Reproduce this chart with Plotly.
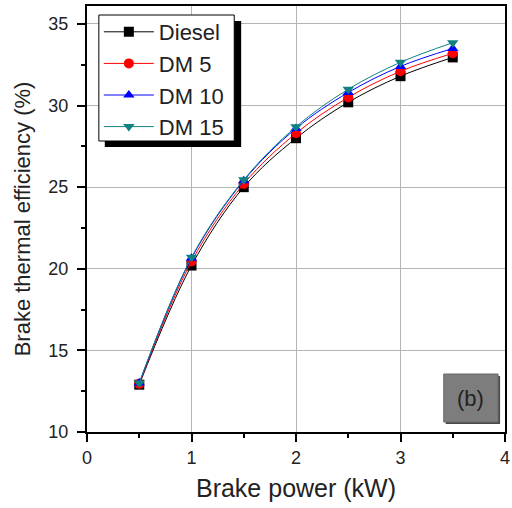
import plotly.graph_objects as go

power = [0.5, 1.0, 1.5, 2.0, 2.5, 3.0, 3.5]
diesel = [12.9, 20.2, 25.0, 28.0, 30.2, 31.8, 32.95]
dm5 = [12.95, 20.45, 25.2, 28.3, 30.5, 32.1, 33.2]
dm10 = [13.0, 20.65, 25.4, 28.6, 30.8, 32.4, 33.5]
dm15 = [13.0, 20.7, 25.45, 28.7, 31.0, 32.65, 33.85]

series = [
    ("Diesel", diesel, "black", "square"),
    ("DM 5", dm5, "red", "circle"),
    ("DM 10", dm10, "blue", "triangle-up"),
    ("DM 15", dm15, "#108282", "triangle-down"),
]

W, H = 512, 508
ml, mr, mt, mb = 87, 2, 6, 76
pw, ph = W - ml - mr, H - mt - mb
FONT = "Liberation Sans, Arial"

def px(x):
    return (x - ml) / pw

def py(y):
    return (H - mb - y) / ph

fig = go.Figure()
for name, ys, col, sym in series:
    fig.add_trace(go.Scatter(
        x=power, y=ys, name=name, mode="lines+markers",
        line=dict(color=col, width=1, shape="spline"),
        marker=dict(symbol=sym, size=10, color=col),
    ))

# legend shadow and frame
fig.add_shape(type="rect", xref="paper", yref="paper", x0=px(105), x1=px(243), y0=py(147), y1=py(21),
              fillcolor="black", line=dict(width=0), layer="above")
fig.add_shape(type="rect", xref="paper", yref="paper", x0=px(99), x1=px(236), y0=py(141), y1=py(15),
              fillcolor="white", line=dict(color="black", width=1), layer="above")

# (b) label box
fig.add_shape(type="rect", xref="paper", yref="paper", x0=px(450), x1=px(505), y0=py(424), y1=py(376),
              fillcolor="#4a4a4a", line=dict(width=0), layer="above")
fig.add_shape(type="rect", xref="paper", yref="paper", x0=px(448), x1=px(503), y0=py(422), y1=py(374),
              fillcolor="#7d7d7d", line=dict(color="#6a6a6a", width=1), layer="above")
fig.add_annotation(xref="paper", yref="paper", x=px(475.5), y=py(398), xanchor="center", yanchor="middle",
                   text="(b)", showarrow=False,
                   font=dict(family=FONT, size=22, color="#222222"))

axis_common = dict(
    showline=True, linecolor="black", linewidth=2, mirror=True,
    ticks="outside", ticklen=8, tickwidth=2, tickcolor="black",
    showgrid=True, gridcolor="#b4b4b4", gridwidth=1, zeroline=False,
    tickfont=dict(family=FONT, size=18, color="#222222"),
    ticklabeloverflow="allow",
)

fig.update_layout(
    width=W, height=H,
    margin=dict(l=ml, r=mr, t=mt, b=mb),
    paper_bgcolor="white", plot_bgcolor="white",
    font=dict(family=FONT, color="#222222"),
    xaxis=dict(range=[0, 4], dtick=1, tick0=0,
               minor=dict(ticks="outside", ticklen=4, tickwidth=2, tickcolor="black", dtick=0.5, showgrid=False),
               title=dict(text="Brake power (kW)", font=dict(size=25), standoff=13),
               **axis_common),
    yaxis=dict(range=[10, 36.1], dtick=5, tick0=10,
               minor=dict(ticks="outside", ticklen=4, tickwidth=2, tickcolor="black", dtick=2.5, showgrid=False),
               title=dict(text="Brake thermal efficiency (%)", font=dict(size=22), standoff=12),
               ticklabelstandoff=5,
               **axis_common),
    showlegend=True,
    legend=dict(x=px(99), y=py(11), xanchor="left", yanchor="top",
                bgcolor="rgba(0,0,0,0)", borderwidth=0,
                font=dict(family=FONT, size=22, color="#222222"),
                itemwidth=50, tracegroupgap=0),
)

fig.write_html("out.html")
